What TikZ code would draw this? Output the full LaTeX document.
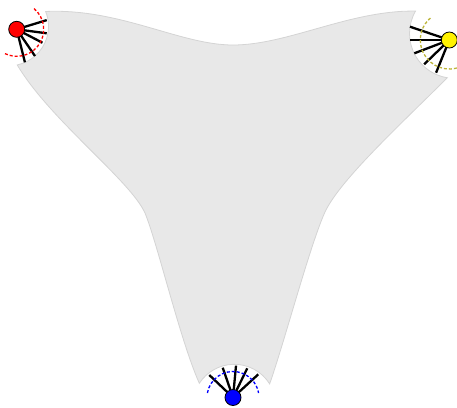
\documentclass[tikz,border=0pt]{standalone}
\usepackage{tikz}
\usetikzlibrary{calc}

\begin{document}
\begin{tikzpicture}[
  x=1pt, y=-1pt,
  region/.style={fill=black!9, draw=black!17, line width=0.8pt},
  spoke/.style={line width=2.3pt},
  ring/.style={line width=1.3pt, dash pattern=on 3pt off 2pt},
  dot/.style={circle, draw, line width=0.8pt, minimum size=16pt, inner sep=0pt}
]
\useasboundingbox (0,0) rectangle (457,407);
\coordinate (r) at (16.7,29.3);
\coordinate (y) at (449.3,40);
\coordinate (b) at (233,397.5);
% centres of the cut-outs
\coordinate (rc) at (9,26.3);
\coordinate (yc) at (454.3,33.5);
\coordinate (bc) at (234.3,406);

\path[region] ($(rc)+(-22:39.5)$)
  .. controls (120,8) and (180,45) .. (233,45)
  .. controls (288,45) and (350,10) .. ($(yc)+(210:44.8)$)
  arc[start angle=210, end angle=99, radius=44.8]
  .. controls (400,125) and (340,180) .. (325,212)
  .. controls (310,245) and (285,340) .. ($(bc)+(-32:41.7)$)
  arc[start angle=-32, end angle=-147, radius=41.7]
  .. controls (180,340) and (158,245) .. (145,213)
  .. controls (130,180) and (50,120) .. ($(rc)+(78:39.5)$)
  arc[start angle=78, end angle=-22, radius=39.5] -- cycle;

% spokes
\foreach \a/\l in {-17/31.4, 7.6/30.3, 27.6/29, 55.6/32.4, 76/34}
  \draw[spoke] (r) -- ++(\a:\l);
\foreach \a/\l in {-161.3/41.5, 180/39.3, 159.2/37.4, 136/35, 112/35.3}
  \draw[spoke] (y) -- ++(\a:\l);
\foreach \a/\l in {-136.5/32.7, -109/31.5, -84.6/32, -64/32.5, -42.5/34.3}
  \draw[spoke] (b) -- ++(\a:\l);

% dashed rings
\draw[ring, red] ($(r)+(-50:27)$) arc[start angle=-50, end angle=116, radius=27];
\draw[ring, yellow!70!black] ($(y)+(75:29)$) arc[start angle=75, end angle=230, radius=29];
\draw[ring, blue] ($(b)+(-170:26)$) arc[start angle=-170, end angle=-10, radius=26];

\node[dot, fill=red] (red) at (r) {};
\node[dot, fill=yellow] (yellow) at (y) {};
\node[dot, fill=blue] (blue) at (b) {};
\end{tikzpicture}
\end{document}
